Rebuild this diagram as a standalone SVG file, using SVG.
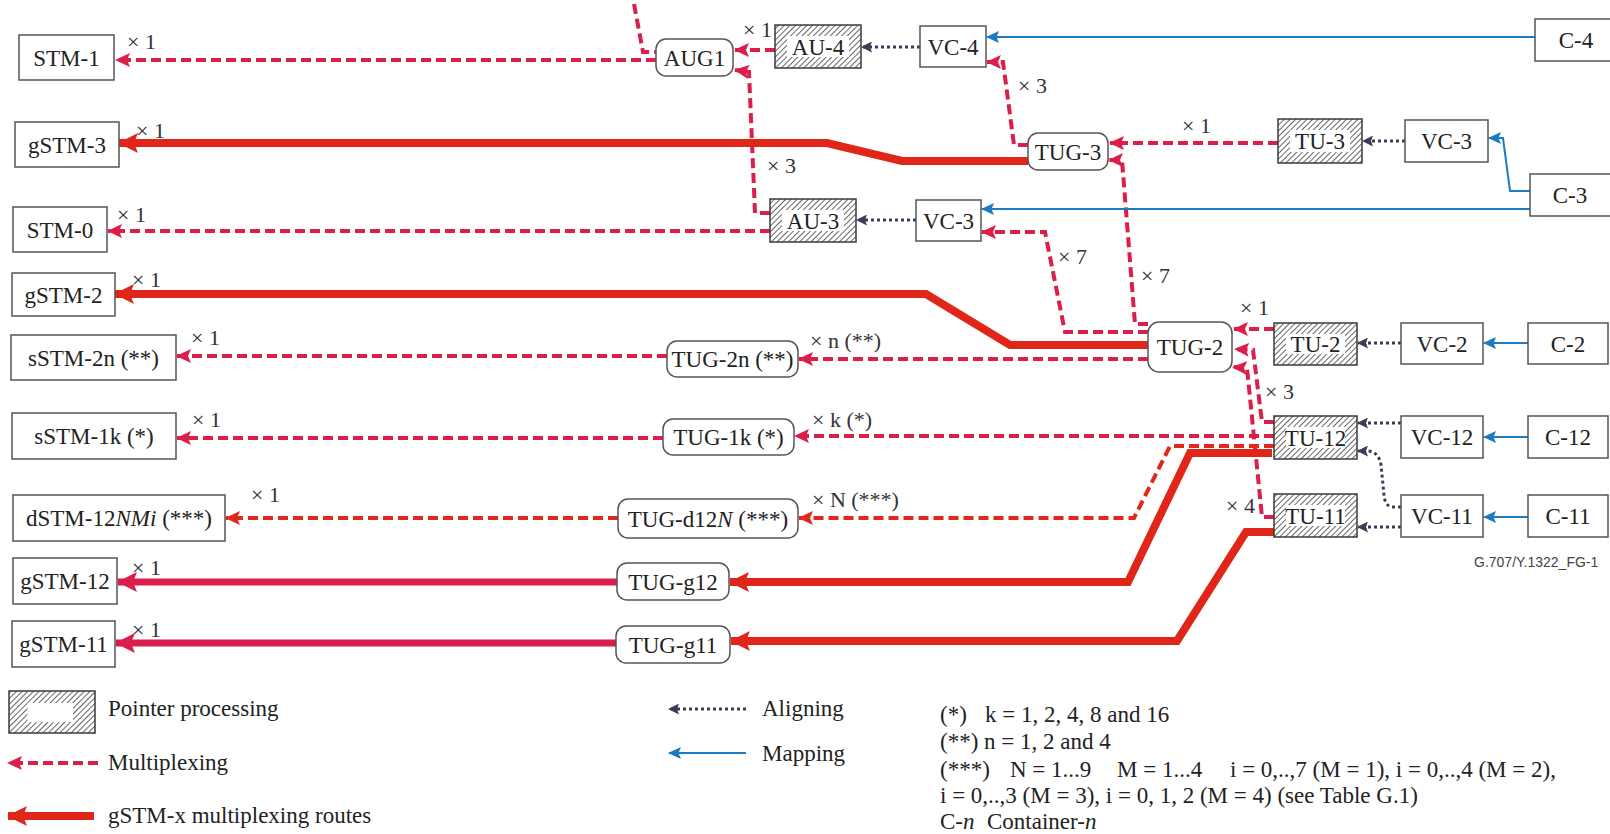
<svg xmlns="http://www.w3.org/2000/svg" width="1610" height="834" viewBox="0 0 1610 834">
<style>
.box{fill:#fff;stroke:#555;stroke-width:1.5}
.hb{fill:url(#hatch);stroke:#3a3a3a;stroke-width:1.5}
.hi{fill:#fff;stroke:none}
.t{font-family:"Liberation Serif","Times New Roman",serif;font-size:23px;fill:#222;text-anchor:middle}
.m{font-family:"Liberation Serif","Times New Roman",serif;font-size:22px;fill:#333}
.lg{font-family:"Liberation Serif","Times New Roman",serif;font-size:23px;fill:#222}
.mux{fill:none;stroke:#dc1e4a;stroke-width:4;stroke-dasharray:10 5;marker-end:url(#amux)}
.muxn{fill:none;stroke:#dc1e4a;stroke-width:4;stroke-dasharray:10 5}
.muxr{fill:none;stroke:#e0281c;stroke-width:4;stroke-dasharray:10 5;marker-end:url(#amuxr)}
.gs{fill:none;stroke:#df2618;stroke-width:8;marker-end:url(#ags)}
.gc{fill:none;stroke:#d91d4c;stroke-width:7;marker-end:url(#agc)}
.al{fill:none;stroke:#3d3c58;stroke-width:3;stroke-dasharray:3 3;marker-end:url(#aal)}
.mp{fill:none;stroke:#1b7cc2;stroke-width:2;marker-end:url(#amp)}
</style>
<defs>
<pattern id="hatch" patternUnits="userSpaceOnUse" width="4" height="4" patternTransform="rotate(45)">
<rect width="4" height="4" fill="#fff"/>
<line x1="0" y1="0" x2="0" y2="4" stroke="#333" stroke-width="1.5"/>
</pattern>
<marker id="amux" markerUnits="userSpaceOnUse" markerWidth="15" markerHeight="14" viewBox="0 0 15 14" refX="14" refY="7" orient="auto"><path d="M0,0 L15,7 L0,14 L3,7 z" fill="#dc1e4a"/></marker>
<marker id="amuxr" markerUnits="userSpaceOnUse" markerWidth="15" markerHeight="14" viewBox="0 0 15 14" refX="14" refY="7" orient="auto"><path d="M0,0 L15,7 L0,14 L3,7 z" fill="#e0281c"/></marker>
<marker id="ags" markerUnits="userSpaceOnUse" markerWidth="20" markerHeight="20" viewBox="0 0 20 20" refX="19" refY="10" orient="auto"><path d="M0,0 L20,10 L0,20 L4,10 z" fill="#df2618"/></marker>
<marker id="agc" markerUnits="userSpaceOnUse" markerWidth="20" markerHeight="20" viewBox="0 0 20 20" refX="19" refY="10" orient="auto"><path d="M0,0 L20,10 L0,20 L4,10 z" fill="#d91d4c"/></marker>
<marker id="aal" markerUnits="userSpaceOnUse" markerWidth="11" markerHeight="11" viewBox="0 0 11 11" refX="10" refY="5.5" orient="auto"><path d="M0,0 L11,5.5 L0,11 L2,5.5 z" fill="#3d3c58"/></marker>
<marker id="amp" markerUnits="userSpaceOnUse" markerWidth="13" markerHeight="12" viewBox="0 0 13 12" refX="12" refY="6" orient="auto"><path d="M0,0 L13,6 L0,12 L2.5,6 z" fill="#1b7cc2"/></marker>
</defs>
<rect width="1610" height="834" fill="#fff"/>

<g id="connectors">
<!-- multiplexing -->
<path class="mux" d="M656,60 L116,60"/>
<path class="muxn" d="M634,4 L643,52 L656,52"/>
<path class="mux" d="M775,50 L735,50"/>
<path class="mux" d="M770,213 L755,213 L749,72 L735,70"/>
<path class="mux" d="M770,231 L108,231"/>
<path class="mux" d="M1028,145 L1014,145 L1003,62 L987,62"/>
<path class="mux" d="M1278,143 L1110,143"/>
<path class="mux" d="M1148,332 L1065,332 L1045,232 L982,232"/>
<path class="mux" d="M1148,324 L1135,324 L1122,160 L1109,160"/>
<path class="mux" d="M1274,329 L1234,329"/>
<path class="mux" d="M1274,422 L1262,422 L1253,350 L1235,349"/>
<path class="mux" d="M1274,517 L1262,517 L1247,368 L1233,367"/>
<path class="mux" d="M1148,359 L799,359"/>
<path class="mux" d="M667,356 L177,356"/>
<path class="mux" d="M1274,436 L795,436"/>
<path class="mux" d="M663,438 L177,438"/>
<path class="muxr" d="M1274,446 L1170,446 L1134,518 L799,518"/>
<path class="muxr" d="M618,518 L226,518"/>
<!-- gSTM routes -->
<path class="gs" d="M1028,161 L902,161 L827,143 L119,143"/>
<path class="gs" d="M1148,345 L1010,345 L926,294 L115,294"/>
<path class="gs" d="M1272,453 L1190,453 L1128,582 L730,582"/>
<path class="gc" d="M617,582 L118,582"/>
<path class="gs" d="M1274,532 L1246,532 L1177,641 L731,641"/>
<path class="gc" d="M616,643 L116,643"/>
<!-- aligning -->
<path class="al" d="M920,47 L862,47"/>
<path class="al" d="M916,220 L857,220"/>
<path class="al" d="M1405,141 L1363,141"/>
<path class="al" d="M1401,343 L1358,343"/>
<path class="al" d="M1401,423 L1358,423"/>
<path class="al" d="M1401,507 L1392,507 Q1385,506 1384,495 L1381,465 Q1379,452 1368,451 L1358,451"/>
<path class="al" d="M1401,527 L1358,527"/>
<!-- mapping -->
<path class="mp" d="M1535,37 L987,37"/>
<path class="mp" d="M1530,209 L982,209"/>
<path class="mp" d="M1532,191 L1510,191 L1503,138 L1489,138"/>
<path class="mp" d="M1528,343 L1484,343"/>
<path class="mp" d="M1528,437 L1484,437"/>
<path class="mp" d="M1528,517 L1484,517"/>
</g>

<g id="n-stm1"><rect class="box" x="19" y="35" width="95" height="45"/><text class="t" x="66.5" y="65.5">STM-1</text></g>
<g id="n-gstm3"><rect class="box" x="15" y="122" width="104" height="45"/><text class="t" x="67" y="152.5">gSTM-3</text></g>
<g id="n-stm0"><rect class="box" x="13" y="207" width="94" height="45"/><text class="t" x="60" y="237.5">STM-0</text></g>
<g id="n-gstm2"><rect class="box" x="12" y="273" width="103" height="43"/><text class="t" x="63.5" y="302.5">gSTM-2</text></g>
<g id="n-sstm2n"><rect class="box" x="11" y="335" width="165" height="45"/><text class="t" x="93.5" y="365.5">sSTM-2n (**)</text></g>
<g id="n-sstm1k"><rect class="box" x="12" y="413" width="164" height="46"/><text class="t" x="94" y="444">sSTM-1k (*)</text></g>
<g id="n-dstm"><rect class="box" x="13" y="495" width="212" height="46"/><text class="t" x="119" y="526">dSTM-12<tspan font-style="italic">NMi</tspan> (***)</text></g>
<g id="n-gstm12"><rect class="box" x="13" y="558" width="104" height="46"/><text class="t" x="65" y="589">gSTM-12</text></g>
<g id="n-gstm11"><rect class="box" x="12" y="621" width="103" height="46"/><text class="t" x="63.5" y="652">gSTM-11</text></g>

<g id="n-aug1"><rect class="box" x="656" y="39" width="77" height="37" rx="10"/><text class="t" x="694.5" y="65.5">AUG1</text></g>
<g id="n-au4"><rect class="hb" x="775" y="25" width="86" height="43"/><rect class="hi" x="787" y="36" width="62" height="21"/><text class="t" x="818" y="54.5">AU-4</text></g>
<g id="n-vc4"><rect class="box" x="920" y="26" width="66" height="41"/><text class="t" x="953" y="54.5">VC-4</text></g>
<g id="n-au3"><rect class="hb" x="770" y="199" width="86" height="43"/><rect class="hi" x="782" y="210" width="62" height="21"/><text class="t" x="813" y="228.5">AU-3</text></g>
<g id="n-vc3a"><rect class="box" x="916" y="200" width="65" height="41"/><text class="t" x="948.5" y="228.5">VC-3</text></g>
<g id="n-tug3"><rect class="box" x="1028" y="133" width="80" height="37" rx="10"/><text class="t" x="1068" y="159.5">TUG-3</text></g>
<g id="n-tu3"><rect class="hb" x="1278" y="119" width="84" height="44"/><rect class="hi" x="1290" y="130" width="60" height="22"/><text class="t" x="1320" y="149">TU-3</text></g>
<g id="n-vc3b"><rect class="box" x="1405" y="120" width="83" height="42"/><text class="t" x="1446.5" y="149">VC-3</text></g>
<g id="n-c4"><rect class="box" x="1535" y="19" width="80" height="42"/><text class="t" x="1576" y="48">C-4</text></g>
<g id="n-c3"><rect class="box" x="1530" y="174" width="85" height="42"/><text class="t" x="1570" y="203">C-3</text></g>

<g id="n-tug2"><rect class="box" x="1148" y="322" width="84" height="50" rx="11"/><text class="t" x="1190" y="355">TUG-2</text></g>
<g id="n-tu2"><rect class="hb" x="1274" y="323" width="83" height="42"/><rect class="hi" x="1286" y="334" width="59" height="20"/><text class="t" x="1315.5" y="352">TU-2</text></g>
<g id="n-vc2"><rect class="box" x="1401" y="323" width="82" height="41"/><text class="t" x="1442" y="351.5">VC-2</text></g>
<g id="n-c2"><rect class="box" x="1528" y="323" width="80" height="41"/><text class="t" x="1568" y="351.5">C-2</text></g>
<g id="n-tu12"><rect class="hb" x="1274" y="416" width="83" height="43"/><rect class="hi" x="1286" y="427" width="59" height="21"/><text class="t" x="1315.5" y="445.5">TU-12</text></g>
<g id="n-vc12"><rect class="box" x="1401" y="416" width="82" height="42"/><text class="t" x="1442" y="445">VC-12</text></g>
<g id="n-c12"><rect class="box" x="1528" y="416" width="80" height="42"/><text class="t" x="1568" y="445">C-12</text></g>
<g id="n-tu11"><rect class="hb" x="1274" y="494" width="83" height="43"/><rect class="hi" x="1286" y="505" width="59" height="21"/><text class="t" x="1315.5" y="523.5">TU-11</text></g>
<g id="n-vc11"><rect class="box" x="1401" y="495" width="82" height="42"/><text class="t" x="1442" y="524">VC-11</text></g>
<g id="n-c11"><rect class="box" x="1528" y="495" width="80" height="42"/><text class="t" x="1568" y="524">C-11</text></g>

<g id="n-tug2n"><rect class="box" x="667" y="341" width="131" height="36" rx="10"/><text class="t" x="732.5" y="367">TUG-2n (**)</text></g>
<g id="n-tug1k"><rect class="box" x="663" y="419" width="131" height="36" rx="10"/><text class="t" x="728.5" y="445">TUG-1k (*)</text></g>
<g id="n-tugd12n"><rect class="box" x="618" y="499" width="180" height="39" rx="10"/><text class="t" x="708" y="526.5">TUG-d12<tspan font-style="italic">N</tspan> (***)</text></g>
<g id="n-tugg12"><rect class="box" x="617" y="563" width="112" height="37" rx="10"/><text class="t" x="673" y="589.5">TUG-g12</text></g>
<g id="n-tugg11"><rect class="box" x="616" y="626" width="114" height="37" rx="10"/><text class="t" x="673" y="652.5">TUG-g11</text></g>

<g id="labels">
<text class="m" x="127" y="49">× 1</text>
<text class="m" x="136" y="138">× 1</text>
<text class="m" x="117" y="222">× 1</text>
<text class="m" x="132" y="287">× 1</text>
<text class="m" x="191" y="345">× 1</text>
<text class="m" x="192" y="427">× 1</text>
<text class="m" x="251" y="502">× 1</text>
<text class="m" x="132" y="575">× 1</text>
<text class="m" x="132" y="637">× 1</text>
<text class="m" x="743" y="37">× 1</text>
<text class="m" x="767" y="173">× 3</text>
<text class="m" x="1018" y="93">× 3</text>
<text class="m" x="1182" y="133">× 1</text>
<text class="m" x="1058" y="264">× 7</text>
<text class="m" x="1141" y="283">× 7</text>
<text class="m" x="1240" y="315">× 1</text>
<text class="m" x="1265" y="399">× 3</text>
<text class="m" x="1226" y="513">× 4</text>
<text class="m" x="810" y="348">× n (**)</text>
<text class="m" x="812" y="427">× k (*)</text>
<text class="m" x="812" y="507">× N (***)</text>
</g>

<g id="legend">
<rect class="hb" x="9" y="691" width="86" height="42"/><rect class="hi" x="27.5" y="703" width="45.5" height="19"/>
<text class="lg" x="108" y="716">Pointer processing</text>
<path class="mux" d="M98,763 L8,763"/>
<text class="lg" x="108" y="770">Multiplexing</text>
<path class="gs" d="M94,816 L8,816"/>
<text class="lg" x="108" y="823">gSTM-x multiplexing routes</text>
<path class="al" d="M746,709 L669,709"/>
<text class="lg" x="762" y="716">Aligning</text>
<path class="mp" d="M746,753 L669,753"/>
<text class="lg" x="762" y="761">Mapping</text>
</g>

<g id="notes">
<text class="lg" x="940" y="722">(*)</text>
<text class="lg" x="985" y="722">k = 1, 2, 4, 8 and 16</text>
<text class="lg" x="940" y="749">(**) n = 1, 2 and 4</text>
<text class="lg" x="940" y="777">(***)</text>
<text class="lg" x="1010" y="777">N = 1...9</text>
<text class="lg" x="1117" y="777">M = 1...4</text>
<text class="lg" x="1230" y="777">i = 0,..,7 (M = 1), i = 0,..,4 (M = 2),</text>
<text class="lg" x="940" y="803">i = 0,..,3 (M = 3), i = 0, 1, 2 (M = 4) (see Table G.1)</text>
<text class="lg" x="940" y="829">C-<tspan font-style="italic">n</tspan></text>
<text class="lg" x="987" y="829">Container-<tspan font-style="italic">n</tspan></text>
<text x="1474" y="567" font-family="'Liberation Sans',Arial,sans-serif" font-size="14" fill="#444">G.707/Y.1322_FG-1</text>
</g>
</svg>
